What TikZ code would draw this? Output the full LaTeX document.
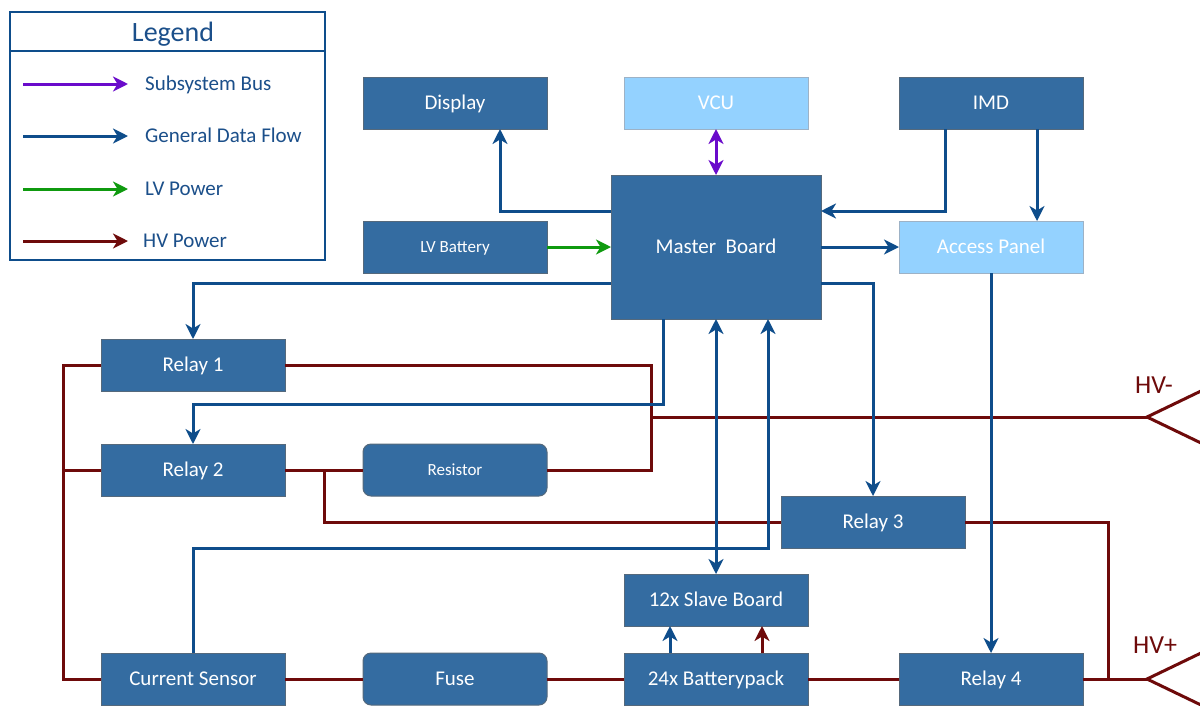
\documentclass[tikz,border=0pt]{standalone}
\usepackage{fontspec}
\setmainfont{Carlito}
\usetikzlibrary{arrows.meta}
\definecolor{boxfill}{HTML}{346CA1}
\definecolor{boxdraw}{HTML}{55697C}
\definecolor{lightfill}{HTML}{94D2FF}
\definecolor{lightdraw}{HTML}{9DB2C6}
\definecolor{dataclr}{HTML}{0E4D8B}
\definecolor{busclr}{HTML}{6A0BCB}
\definecolor{lvclr}{HTML}{0F9A0F}
\definecolor{hvclr}{HTML}{6E0A0A}
\definecolor{legtext}{HTML}{1B4F8A}
\begin{document}
\begin{tikzpicture}[x=1pt,y=-1pt,
  >={Stealth[length=15pt,width=15pt,inset=4.5pt]},
  box/.style={draw=boxdraw, fill=boxfill, text=white, minimum width=184pt, minimum height=52pt, inner sep=0pt, outer sep=0pt, line width=1pt, font=\fontsize{21}{21}\selectfont, text height=13.6pt, text depth=0pt},
  lbox/.style={box, fill=lightfill, draw=lightdraw},
  rbox/.style={box, rounded corners=8pt},
  smalltxt/.style={font=\fontsize{17}{17}\selectfont, text height=11pt},
  data/.style={draw=dataclr, line width=3pt, ->},
  bus/.style={draw=busclr, line width=3pt, <->},
  lv/.style={draw=lvclr, line width=3pt, ->},
  hv/.style={draw=hvclr, line width=3pt},
  hvarrow/.style={hv, ->},
  legitem/.style={anchor=west, text=legtext, inner sep=0pt, font=\fontsize{21}{21}\selectfont, text height=13.6pt, text depth=0pt}
]
\useasboundingbox (0,0) rectangle (1200,705);
\fill[white] (0,0) rectangle (1200,705);

% Legend
\node[draw=dataclr, line width=1.4pt, minimum width=315pt, minimum height=248pt, inner sep=0pt] (legend) at (167.5,136) {};
\draw[dataclr, line width=1.4pt] (legend.west |- 0,51) -- (legend.east |- 0,51);
\node[text=legtext, font=\fontsize{28}{28}\selectfont, text height=18pt, text depth=0pt, inner sep=0pt] (legtitle) at (173,32) {Legend};
\coordinate (l1a) at (23,84);  \coordinate (l1b) at (128,84);
\coordinate (l2a) at (23,136); \coordinate (l2b) at (128,136);
\coordinate (l3a) at (23,189); \coordinate (l3b) at (128,189);
\coordinate (l4a) at (23,241); \coordinate (l4b) at (128,241);
\draw[draw=busclr, line width=3pt, ->] (l1a) -- (l1b);
\draw[data] (l2a) -- (l2b);
\draw[lv] (l3a) -- (l3b);
\draw[hvarrow] (l4a) -- (l4b);
\node[legitem] (t1) at (145,84) {Subsystem Bus};
\node[legitem] (t2) at (145,136) {General Data Flow};
\node[legitem] (t3) at (145,189) {LV Power};
\node[legitem] (t4) at (143,241) {HV Power};

% Nodes
\node[box] (display) at (455,103) {Display};
\node[lbox] (vcu) at (716,103) {VCU};
\node[box] (imd) at (991,103) {IMD};
\node[box, minimum width=210pt, minimum height=144pt] (master) at (716,247) {Master\ \ Board};
\node[box, smalltxt] (lvb) at (455,247) {LV Battery};
\node[lbox] (access) at (991,247) {Access Panel};
\node[box] (relay1) at (193,365) {Relay 1};
\node[box] (relay2) at (193,470) {Relay 2};
\node[rbox, smalltxt] (resistor) at (455,470) {Resistor};
\node[box] (relay3) at (873,522) {Relay 3};
\node[box] (slave) at (716,600) {12x Slave Board};
\node[box] (cs) at (193,679) {Current Sensor};
\node[rbox] (fuse) at (455,679) {Fuse};
\node[box] (bp) at (716,679) {24x Batterypack};
\node[box] (relay4) at (991,679) {Relay 4};

% HV terminals
\coordinate (hvm) at (1147,417);
\coordinate (hvp) at (1147,679);
\draw[hv, line join=miter] (1201,391) -- (hvm) -- (1201,443);
\draw[hv, line join=miter] (1201,653) -- (hvp) -- (1201,705);
\node[text=hvclr, font=\fontsize{26}{26}\selectfont, text height=17pt, text depth=0pt, inner sep=0pt] (hvmlabel) at (1154,385) {HV-};
\node[text=hvclr, font=\fontsize{26}{26}\selectfont, text height=17pt, text depth=0pt, inner sep=0pt] (hvplabel) at (1155,645) {HV+};

% HV power lines
\draw[hv] (relay1.east) -| (651,470) -- (resistor.east);
\draw[hv] (651,417) -- (hvm);
\draw[hv] (relay2.east) -- (resistor.west);
\draw[hv] (324,470) |- (relay3.west);
\draw[hv] (relay3.east) -| (1108,679);
\draw[hv] (relay4.east) -- (hvp);
\draw[hv] (relay1.west) -- (63,365) |- (cs.west);
\draw[hv] (relay2.west) -- (63,470);
\draw[hv] (cs.east) -- (fuse.west);
\draw[hv] (fuse.east) -- (bp.west);
\draw[hv] (bp.east) -- (relay4.west);
\draw[hvarrow] (bp.north -| 762,0) -- (slave.south -| 762,0);

% Data lines
\draw[data] (master.west |- 0,211) -| (display.south -| 500,0);
\draw[bus] (vcu.south) -- (master.north);
\draw[data] (imd.south -| 945,0) |- (master.east |- 0,211);
\draw[data] (imd.south -| 1037,0) -- (access.north -| 1037,0);
\draw[lv] (lvb.east) -- (master.west |- lvb.east);
\draw[data] (master.east |- access.west) -- (access.west);
\draw[data] (master.east |- 0,283) -| (relay3.north);
\draw[data] (master.west |- 0,283) -| (relay1.north);
\draw[data] (master.south -| 663,0) -- (663,404) -| (relay2.north);
\draw[data, <->] (slave.north) -- (master.south);
\draw[data] (cs.north) |- (768,548) -- (master.south -| 768,0);
\draw[data] (access.south -| 991,0) -- (relay4.north -| 991,0);
\draw[data] (bp.north -| 670,0) -- (slave.south -| 670,0);
\end{tikzpicture}
\end{document}
